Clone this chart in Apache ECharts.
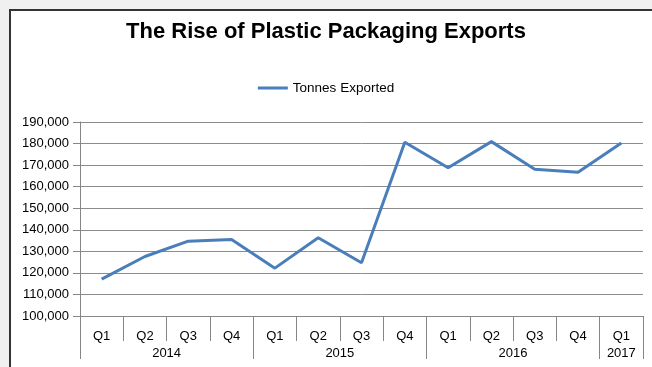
<!DOCTYPE html>
<html>
<head>
<meta charset="utf-8">
<script src="https://cdn.jsdelivr.net/npm/echarts@6/dist/echarts.min.js"></script>
<style>
  html, body { margin: 0; padding: 0; width: 652px; height: 367px; overflow: hidden; background: #f0f0f0; }
  #box { position: absolute; left: 9px; top: 9px; width: 660px; height: 380px; background: #ffffff;
         border-left: 2px solid #333; border-top: 2px solid #333; }
  #chart { position: absolute; left: 0; top: 0; width: 652px; height: 367px; }
</style>
</head>
<body>
<div id="box"></div>
<div id="chart"></div>
<script>
const titleText = 'The Rise of Plastic Packaging Exports';
const seriesName = 'Tonnes Exported';
const quarters = ['Q1','Q2','Q3','Q4','Q1','Q2','Q3','Q4','Q1','Q2','Q3','Q4','Q1'];
const years = ['2014','2015','2016','2017'];
const yearSpans = [4, 4, 4, 1];
const tonnes = [117100, 127600, 134700, 135500, 122200, 136300, 124700, 180600, 168800, 180900, 168100, 166700, 180300];
const yMin = 100000, yMax = 190000, yStep = 10000;

// year boundaries and label centres derived from spans
const yearBounds = [0];
const yearCentres = [];
const centreLabel = {};
yearSpans.forEach((s, i) => {
  const start = yearBounds[yearBounds.length - 1];
  yearBounds.push(start + s);
  const c = start + s / 2;
  yearCentres.push(c);
  centreLabel[c] = years[i];
});

const font = 'Liberation Sans, Arial, sans-serif';
const chart = echarts.init(document.getElementById('chart'), null, { renderer: 'canvas' });
chart.setOption({
  animation: false,
  backgroundColor: 'transparent',
  title: {
    text: titleText, left: 'center', top: 16,
    textStyle: { fontFamily: font, fontWeight: 'bold', fontSize: 22, color: '#000' }
  },
  legend: {
    top: 76, left: 'center',
    icon: 'rect', itemWidth: 30, itemHeight: 3, itemGap: 10,
    textStyle: { fontFamily: font, fontSize: 13.5, color: '#000' },
    data: [seriesName]
  },
  grid: { left: 80, right: 9, top: 122, bottom: 51, containLabel: false },
  xAxis: [
    {
      type: 'category', data: quarters, boundaryGap: true, position: 'bottom',
      axisLine: { show: true, lineStyle: { color: '#868686', width: 1 } },
      axisTick: { show: true, interval: 0, length: 25, lineStyle: { color: '#868686' } },
      axisLabel: { interval: 0, margin: 14, fontFamily: font, fontSize: 13, color: '#000' },
      splitLine: { show: false }
    },
    {
      type: 'value', min: 0, max: quarters.length, position: 'bottom',
      axisLine: { show: false },
      axisTick: { show: true, customValues: yearBounds, length: 43, lineStyle: { color: '#868686' } },
      axisLabel: {
        customValues: yearCentres, margin: 31, fontFamily: font, fontSize: 13, color: '#000',
        formatter: v => centreLabel[v] || ''
      },
      splitLine: { show: false }
    }
  ],
  yAxis: {
    type: 'value', min: yMin, max: yMax, interval: yStep,
    axisLine: { show: true, lineStyle: { color: '#868686', width: 1 } },
    axisTick: { show: true, length: 7, lineStyle: { color: '#868686' } },
    axisLabel: {
      margin: 11, fontFamily: font, fontSize: 13, color: '#000',
      formatter: v => v.toLocaleString('en-US')
    },
    splitLine: { show: true, lineStyle: { color: '#8c8c8c', width: 1 } }
  },
  series: [{
    name: seriesName, type: 'line', xAxisIndex: 0, data: tonnes,
    symbol: 'none', showSymbol: false,
    lineStyle: { color: '#4a7ebb', width: 3 },
    itemStyle: { color: '#4a7ebb' }
  }]
});
</script>
</body>
</html>
